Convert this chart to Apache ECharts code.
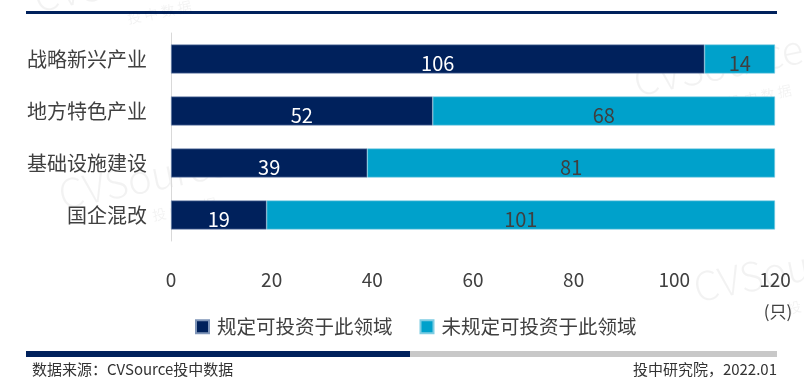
<!DOCTYPE html>
<html><head><meta charset="utf-8">
<script src="https://cdn.jsdelivr.net/npm/echarts@6/dist/echarts.min.js"></script>
<style>html,body{margin:0;padding:0;background:#fff}#c{width:804px;height:381px}</style>
</head><body><div id="c"></div>
<script>
const categories = ['战略新兴产业', '地方特色产业', '基础设施建设', '国企混改'];
const seriesNames = ['规定可投资于此领域', '未规定可投资于此领域'];
const specified = [106, 52, 39, 19];
const unspecified = [14, 68, 81, 101];
const xTicks = [0, 20, 40, 60, 80, 100, 120];

const FONT = '"Noto Sans CJK SC", "Noto Sans", sans-serif';
const NAVY = '#00215C';
const CYAN = '#00A1CB';
const chart = echarts.init(document.getElementById('c'), null, {renderer: 'canvas'});

function wm(x, y, s) {
  return [
    {type: 'text', x: x, y: y, rotation: 0.2, silent: true,
     style: {text: 'CVSource', font: '300 ' + (s) + 'px ' + FONT, fill: 'rgba(0,0,0,0.05)'}},
    {type: 'text', x: x + s * 2.4, y: y + s * 0.85, rotation: 0.2, silent: true,
     style: {text: '投 中 数 据', font: (s * 0.35) + 'px ' + FONT, fill: 'rgba(0,0,0,0.05)'}}
  ];
}

chart.setOption({
  animation: false,
  textStyle: {fontFamily: FONT},
  grid: {left: 171, right: 29, top: 33, bottom: 140},
  legend: {
    data: seriesNames,
    left: 190, top: 312,
    itemWidth: 13, itemHeight: 13, itemGap: 27,
    icon: 'rect',
    textStyle: {fontSize: 19.5, color: '#404040', fontFamily: FONT, padding: [0, 0, 0, 3]}
  },
  xAxis: {
    type: 'value', min: 0, max: 120, interval: 20,
    axisLine: {show: false}, axisTick: {show: false}, splitLine: {show: false},
    axisLabel: {fontSize: 19, color: '#404040', margin: 29,
      formatter: v => xTicks.includes(v) ? String(v) : ''}
  },
  yAxis: {
    type: 'category', data: categories, inverse: true,
    axisLine: {show: true, lineStyle: {color: '#d9d9d9', width: 1}},
    axisTick: {show: false},
    axisLabel: {fontSize: 20, color: '#404040', margin: 24}
  },
  series: [
    {name: seriesNames[0], type: 'bar', stack: 'a', data: specified, barWidth: 29,
     itemStyle: {color: NAVY, borderColor: '#7f95b8', borderWidth: 0.6},
     label: {show: true, position: 'inside', color: '#ffffff', fontSize: 20, offset: [0, 4]}},
    {name: seriesNames[1], type: 'bar', stack: 'a', data: unspecified, barWidth: 29,
     itemStyle: {color: CYAN, borderColor: '#7fcde3', borderWidth: 0.6},
     label: {show: true, position: 'inside', color: '#3f3f3f', fontSize: 20, offset: [0, 4]}}
  ],
  graphic: [
    {type: 'rect', shape: {x: 26, y: 11, width: 751, height: 3}, style: {fill: NAVY}, silent: true},
    {type: 'rect', shape: {x: 26, y: 351, width: 384, height: 6}, style: {fill: NAVY}, silent: true},
    {type: 'rect', shape: {x: 410, y: 351, width: 367, height: 6}, style: {fill: '#c8c8c8'}, silent: true},
    {type: 'text', x: 32, y: 369, style: {text: '数据来源：CVSource投中数据', font: '15px ' + FONT, fill: '#333', textVerticalAlign: 'middle'}},
    {type: 'text', x: 777, y: 369, style: {text: '投中研究院，2022.01', font: '15px ' + FONT, fill: '#333', textAlign: 'right', textVerticalAlign: 'middle'}},
    {type: 'text', x: 778, y: 312, style: {text: '(只)', font: '17px ' + FONT, fill: '#404040', textAlign: 'center', textVerticalAlign: 'middle'}},
    ...wm(30, -22, 40),
    ...wm(630, 62, 40),
    ...wm(55, 175, 40),
    ...wm(690, 268, 40)
  ]
});
</script></body></html>
